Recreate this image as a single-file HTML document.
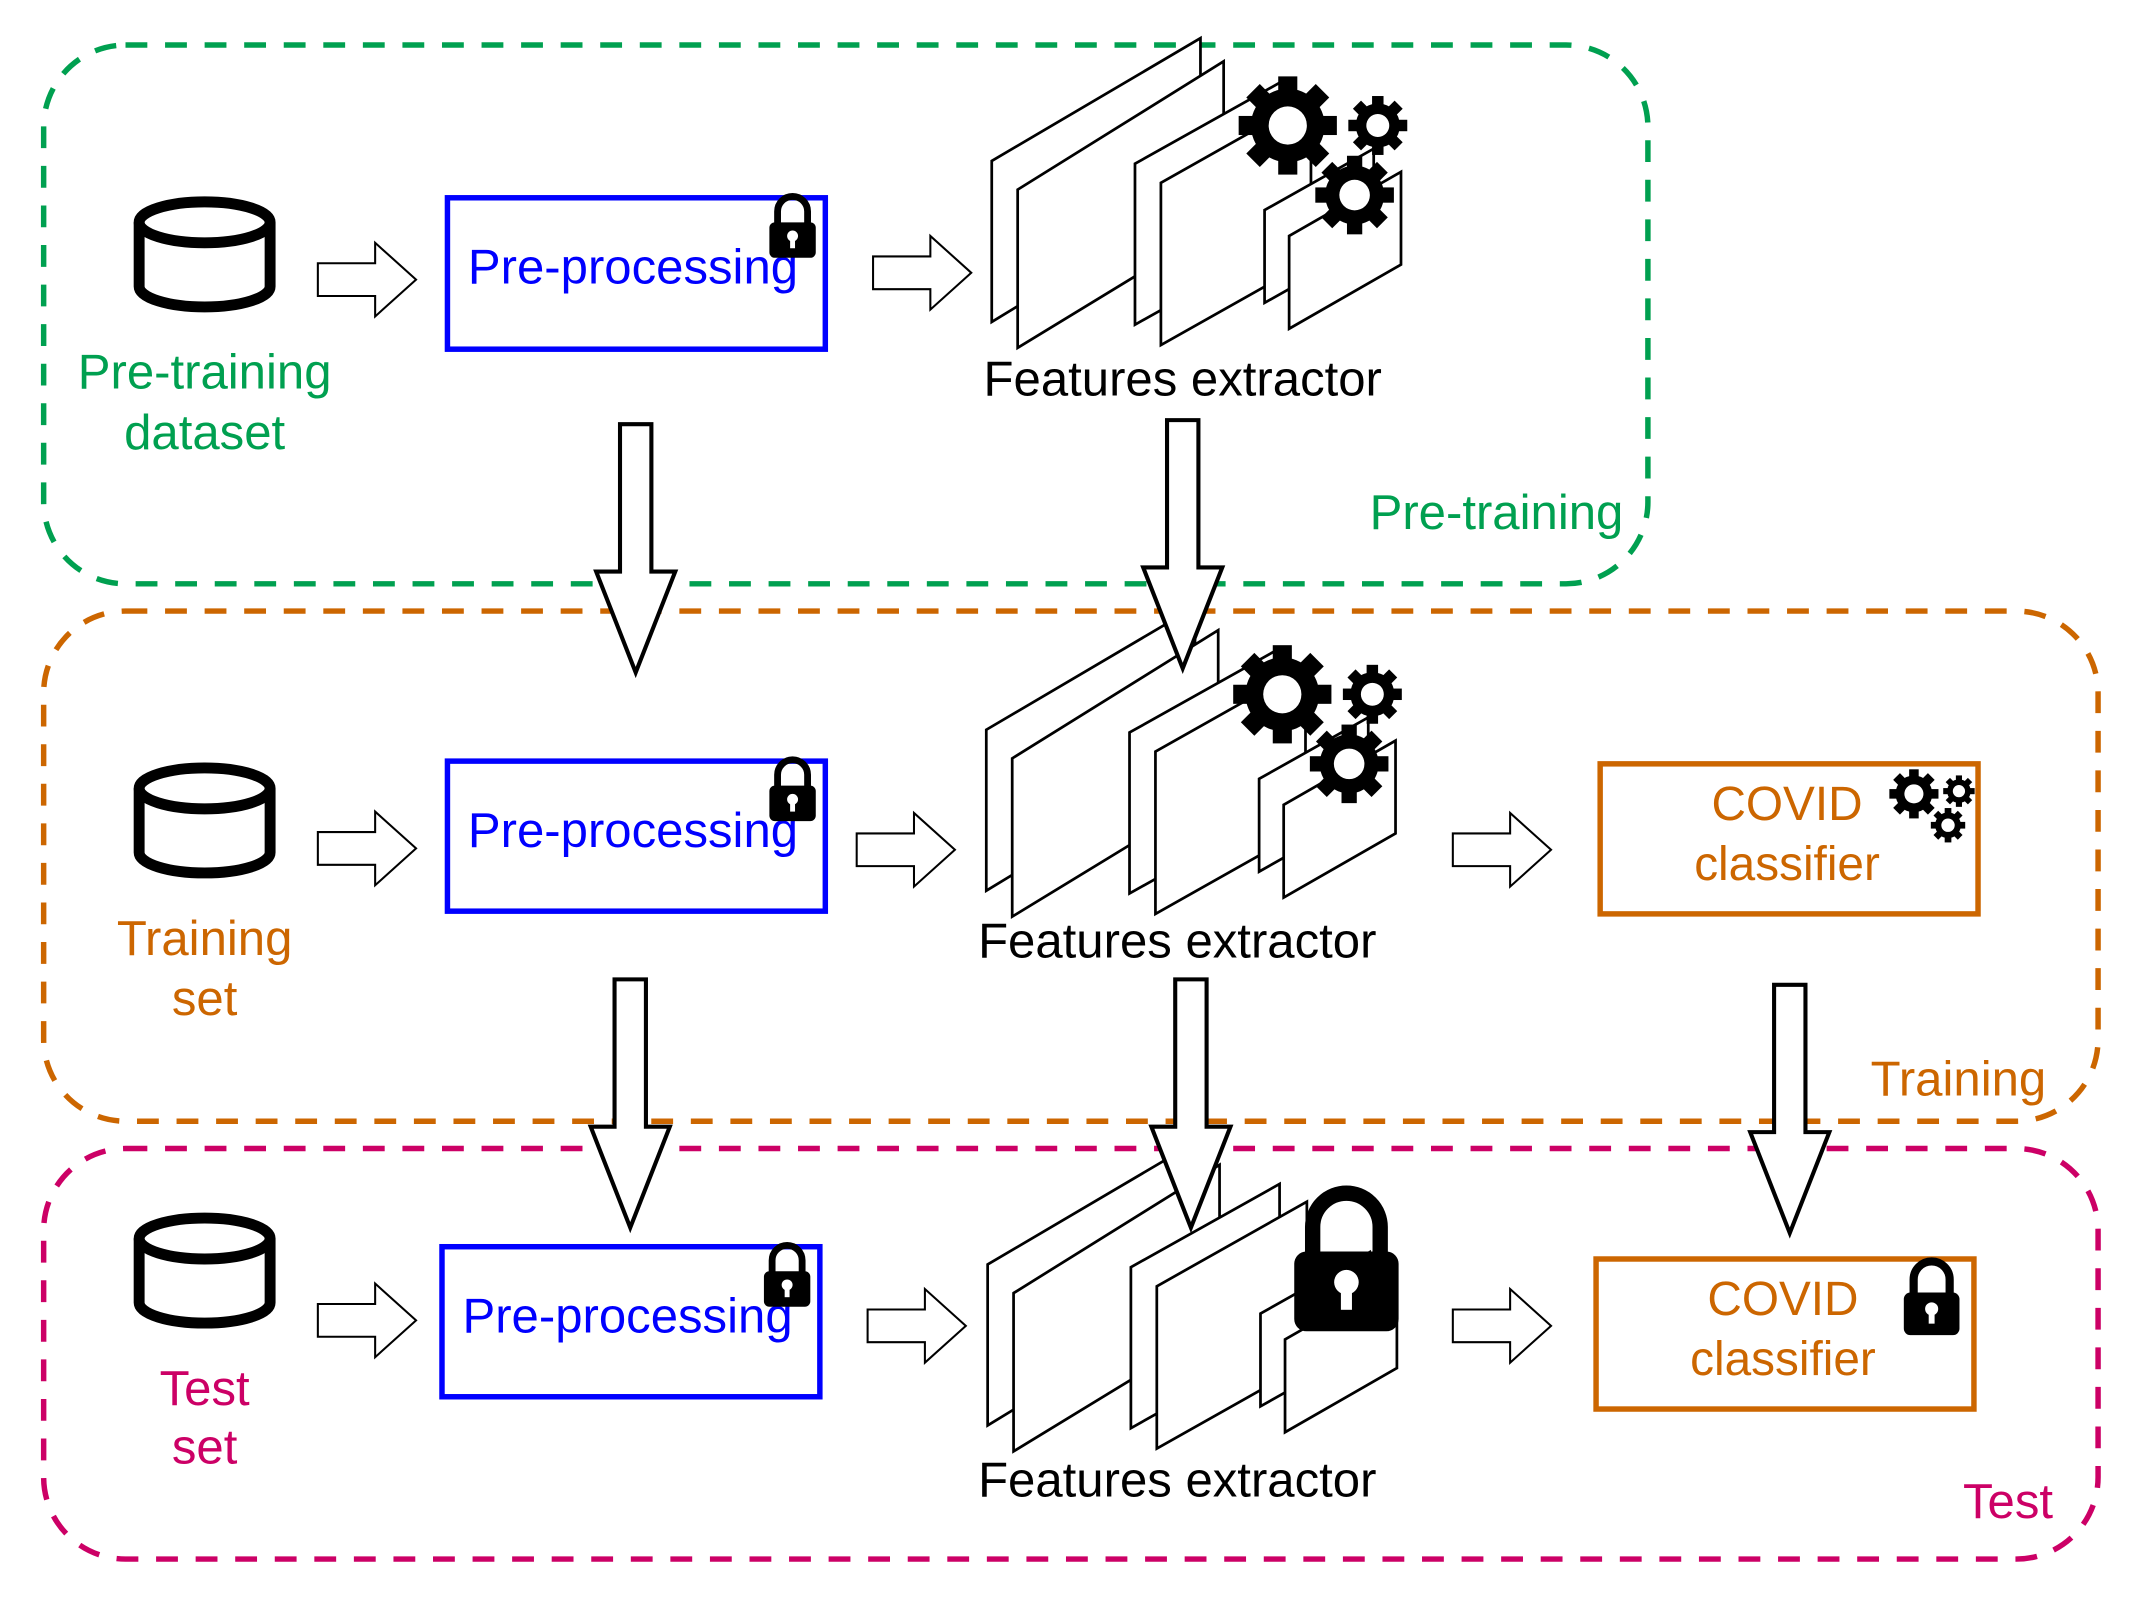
<!DOCTYPE html>
<html><head><meta charset="utf-8"><style>html,body{margin:0;padding:0;background:#fff}svg{display:block}</style></head>
<body>
<svg width="2139" height="1600" viewBox="0 0 1568 1173" preserveAspectRatio="none" xmlns="http://www.w3.org/2000/svg" font-family="Liberation Sans, sans-serif">
<defs>
<g id="gearB"><circle r="27" fill="#000"/><g fill="#000"><rect x="-7" y="-36" width="14" height="72"/><rect x="-7" y="-36" width="14" height="72" transform="rotate(45)"/><rect x="-7" y="-36" width="14" height="72" transform="rotate(90)"/><rect x="-7" y="-36" width="14" height="72" transform="rotate(135)"/></g><circle r="14" fill="#fff"/></g>
<g id="lock"><path d="M-11,0 V-10 A11,11 0 0 1 11,-10 V0" fill="none" stroke="#000" stroke-width="5"/><rect x="-17" y="-2" width="34" height="26" rx="4" fill="#000"/><circle cx="0" cy="8" r="4" fill="#fff"/><rect x="-1.8" y="8" width="3.6" height="9" fill="#fff"/></g>
<g id="stack" fill="#fff" stroke="#000" stroke-width="2">
<polygon points="0,0 153,-90 153,25 0,118"/>
<polygon points="19,21 170,-73 170,45 19,137"/>
<polygon points="105,2 214,-59 214,59 105,120"/>
<polygon points="124,16 234,-46 234,73 124,135"/>
<polygon points="200,36 280,-9 280,59 200,104"/>
<polygon points="218,55 300,8 300,76 218,123"/>
</g>
<g id="cyl" fill="none" stroke="#000" stroke-width="8"><path d="M0,18 V65 A48,15 0 0 0 96,65 V18"/><ellipse cx="48" cy="18" rx="48" ry="15"/></g>
<path id="rarr" d="M0,-12 H42 V-27 L72,0 L42,27 V12 H0 Z" fill="#fff" stroke="#000" stroke-width="1.5"/>
<path id="darr" d="M-11.5,0 H11.5 V108 H29 L0,182 L-29,108 H-11.5 Z" fill="#fff" stroke="#000" stroke-width="3"/>
</defs>

<rect x="32" y="33" width="1176" height="395" rx="60" fill="none" stroke="#00a050" stroke-width="4" stroke-dasharray="16,13"/>
<rect x="32" y="448" width="1506" height="374" rx="60" fill="none" stroke="#cc6600" stroke-width="4" stroke-dasharray="16,13"/>
<rect x="32" y="842" width="1506" height="301" rx="60" fill="none" stroke="#cc0066" stroke-width="4" stroke-dasharray="16,13"/>
<text x="1190" y="388" font-size="36" fill="#00a050" text-anchor="end">Pre-training</text>
<text x="1500" y="803" font-size="36" fill="#cc6600" text-anchor="end">Training</text>
<text x="1505" y="1113" font-size="36" fill="#cc0066" text-anchor="end">Test</text>

<use href="#cyl" x="102" y="145"/>
<text x="150" y="285" font-size="36" fill="#00a050" text-anchor="middle">Pre-training</text>
<text x="150" y="329" font-size="36" fill="#00a050" text-anchor="middle">dataset</text>
<use href="#rarr" x="233" y="205"/>
<rect x="328" y="145" width="277" height="111" fill="none" stroke="#0000ff" stroke-width="4"/>
<text x="343" y="208" font-size="36" fill="#0000ff">Pre-processing</text>
<use href="#lock" x="581" y="165"/>
<use href="#rarr" x="640" y="200"/>
<use href="#stack" x="727" y="118"/>
<use href="#gearB" transform="translate(944,92)"/>
<use href="#gearB" transform="translate(1010,92) scale(0.6)"/>
<use href="#gearB" transform="translate(993,143) scale(0.8)"/>
<text x="867" y="290" font-size="36" fill="#000" text-anchor="middle">Features extractor</text>

<use href="#cyl" x="102" y="560"/>
<text x="150" y="700" font-size="36" fill="#cc6600" text-anchor="middle">Training</text>
<text x="150" y="744" font-size="36" fill="#cc6600" text-anchor="middle">set</text>
<use href="#rarr" x="233" y="622"/>
<rect x="328" y="558" width="277" height="110" fill="none" stroke="#0000ff" stroke-width="4"/>
<text x="343" y="621" font-size="36" fill="#0000ff">Pre-processing</text>
<use href="#lock" x="581" y="578"/>
<use href="#rarr" x="628" y="623"/>
<use href="#stack" x="723" y="535"/>
<use href="#gearB" transform="translate(940,509)"/>
<use href="#gearB" transform="translate(1006,509) scale(0.6)"/>
<use href="#gearB" transform="translate(989,560) scale(0.8)"/>
<text x="863" y="702" font-size="36" fill="#000" text-anchor="middle">Features extractor</text>
<use href="#rarr" x="1065" y="623"/>
<rect x="1173" y="560" width="277" height="110" fill="none" stroke="#cc6600" stroke-width="4"/>
<text x="1310" y="601" font-size="35" fill="#cc6600" text-anchor="middle">COVID</text>
<text x="1310" y="645" font-size="35" fill="#cc6600" text-anchor="middle">classifier</text>
<use href="#gearB" transform="translate(1403,582) scale(0.5)"/>
<use href="#gearB" transform="translate(1436,580) scale(0.32)"/>
<use href="#gearB" transform="translate(1428,605) scale(0.35)"/>

<use href="#cyl" x="102" y="890"/>
<text x="150" y="1030" font-size="36" fill="#cc0066" text-anchor="middle">Test</text>
<text x="150" y="1073" font-size="36" fill="#cc0066" text-anchor="middle">set</text>
<use href="#rarr" x="233" y="968"/>
<rect x="324" y="914" width="277" height="110" fill="none" stroke="#0000ff" stroke-width="4"/>
<text x="339" y="977" font-size="36" fill="#0000ff">Pre-processing</text>
<use href="#lock" x="577" y="934"/>
<use href="#rarr" x="636" y="972"/>
<use href="#stack" x="724" y="927"/>
<use href="#lock" transform="translate(987,922) scale(2.25)"/>
<text x="863" y="1097" font-size="36" fill="#000" text-anchor="middle">Features extractor</text>
<use href="#rarr" x="1065" y="972"/>
<rect x="1170" y="923" width="277" height="110" fill="none" stroke="#cc6600" stroke-width="4"/>
<text x="1307" y="964" font-size="35" fill="#cc6600" text-anchor="middle">COVID</text>
<text x="1307" y="1008" font-size="35" fill="#cc6600" text-anchor="middle">classifier</text>
<use href="#lock" transform="translate(1416,950) scale(1.2)"/>

<use href="#darr" x="466" y="311"/>
<use href="#darr" x="867" y="308"/>
<use href="#darr" x="462" y="718"/>
<use href="#darr" x="873" y="718"/>
<use href="#darr" x="1312" y="722"/>
</svg>
</body></html>
